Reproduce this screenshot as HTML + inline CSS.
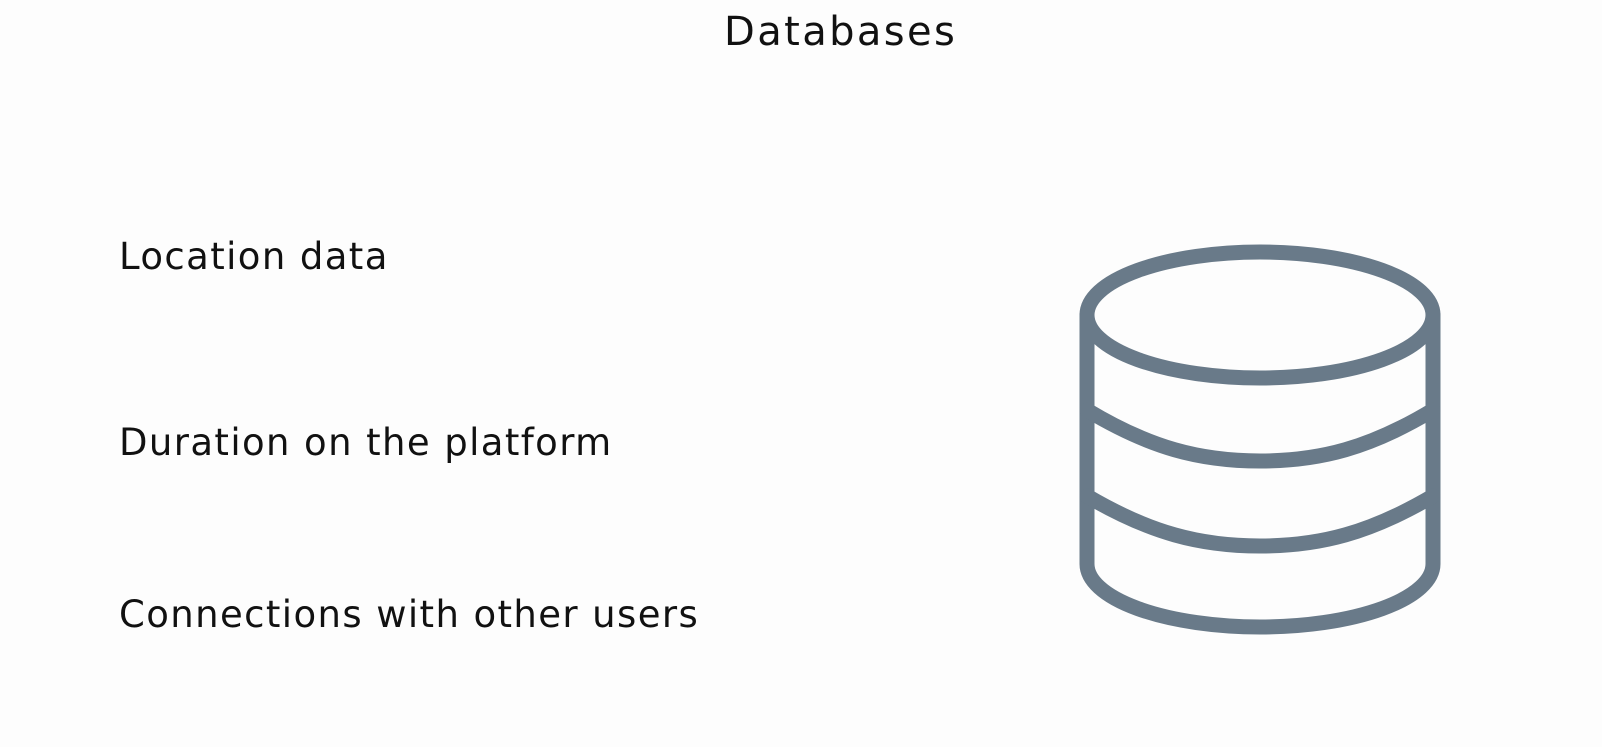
<!DOCTYPE html>
<html><head><style>
html,body{margin:0;padding:0;}
body{width:1602px;height:747px;background:#fdfdfd;position:relative;overflow:hidden;font-family:"DejaVu Sans","Liberation Sans",sans-serif;color:#111;}
.t{position:absolute;font-size:37px;line-height:1;white-space:nowrap;letter-spacing:1.4px;}
</style></head><body>
<div class="t" style="left:724px;top:12px;font-size:40px;letter-spacing:2.4px;">Databases</div>
<div class="t" style="left:119px;top:238px;">Location data</div>
<div class="t" style="left:119px;top:424px;">Duration on the platform</div>
<div class="t" style="left:119px;top:596px;">Connections with other users</div>
<svg width="1602" height="747" style="position:absolute;left:0;top:0" fill="none" stroke="#697a89" stroke-width="15" stroke-linecap="round">
<ellipse cx="1260" cy="315" rx="173" ry="63"/>
<path d="M1087 315 V564 A173 63 0 0 0 1433 564 V315"/>
<path d="M1087 410 C1150 448 1200 461 1260 461 C1320 461 1370 448 1433 410"/>
<path d="M1087 496 C1150 533 1200 546 1260 546 C1320 546 1370 533 1433 496"/>
</svg>
</body></html>
